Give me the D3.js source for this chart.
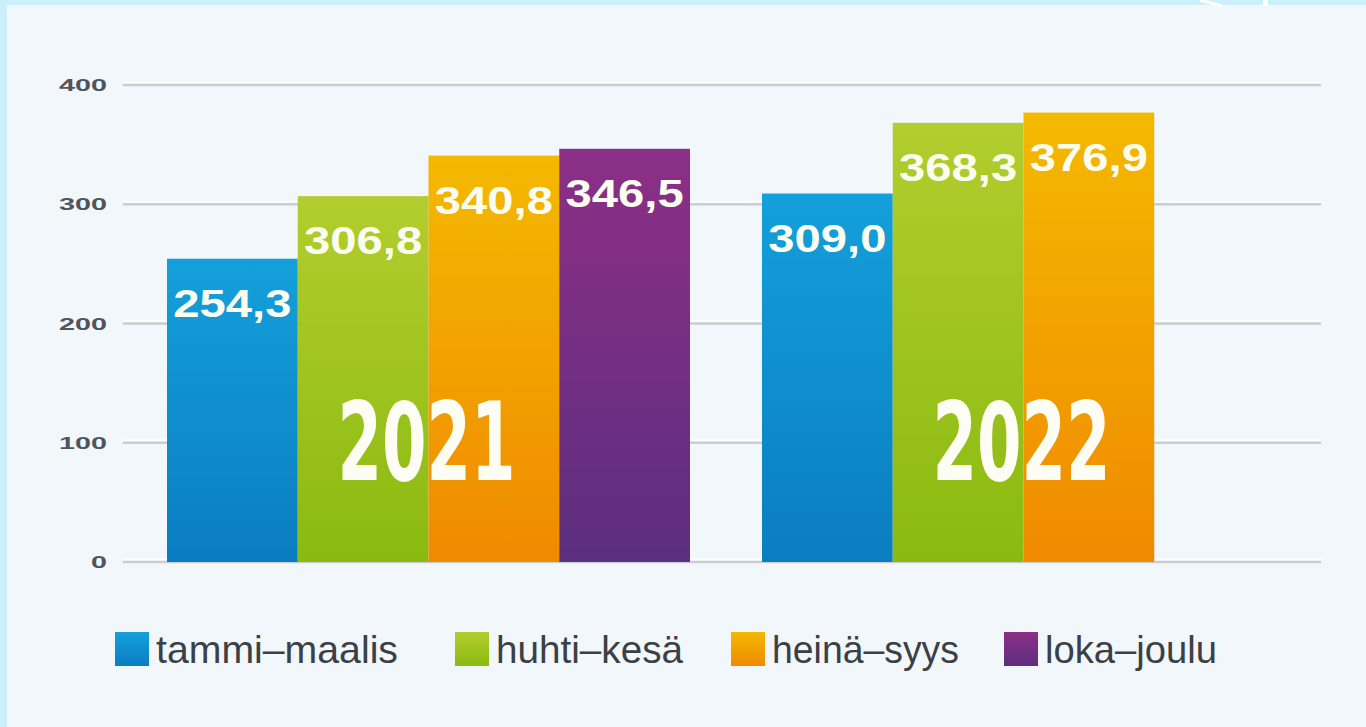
<!DOCTYPE html>
<html>
<head>
<meta charset="utf-8">
<script src="https://cdn.jsdelivr.net/npm/d3@7"></script>
<style>
  html, body { margin: 0; padding: 0; background: #ccf0fb; }
  #chart { width: 1366px; height: 727px; }
</style>
</head>
<body>
<div id="chart"></div>
<script>
// data
const years = ["2021", "2022"];
const quarters = ["tammi–maalis", "huhti–kesä", "heinä–syys", "loka–joulu"];
const values2021 = [254.3, 306.8, 340.8, 346.5];
const values2022 = [309.0, 368.3, 376.9];
const valueLabels2021 = ["254,3", "306,8", "340,8", "346,5"];
const valueLabels2022 = ["309,0", "368,3", "376,9"];
const yTicks = [0, 100, 200, 300, 400];

// colours top -> bottom for each quarter
const colTop = ["#14a0da", "#b3cd2e", "#f4b900", "#8c2f86"];
const colBottom = ["#0a7dc1", "#8aba10", "#f08a00", "#5c2e80"];

const rows = [];
values2021.forEach((v, i) => rows.push({ year: "2021", q: quarters[i], qi: i, v: v, label: valueLabels2021[i] }));
values2022.forEach((v, i) => rows.push({ year: "2022", q: quarters[i], qi: i, v: v, label: valueLabels2022[i] }));

const W = 1366, H = 727;
const svg = d3.select("#chart").append("svg")
  .attr("width", W).attr("height", H);

// panel
svg.append("rect").attr("x", 7).attr("y", 5).attr("width", W - 7).attr("height", H - 5).attr("fill", "#f1f7fb");
// little white decoration top right
svg.append("path").attr("d", "M1200,0 L1222,6").attr("stroke", "#fff").attr("stroke-width", 3).attr("fill", "none");
svg.append("rect").attr("x", 1263).attr("y", 0).attr("width", 5).attr("height", 6).attr("fill", "#fff");

const defs = svg.append("defs");
quarters.forEach((q, i) => {
  const g = defs.append("linearGradient").attr("id", "grad" + i)
    .attr("x1", 0).attr("y1", 0).attr("x2", 0).attr("y2", 1);
  g.append("stop").attr("offset", "0%").attr("stop-color", colTop[i]);
  g.append("stop").attr("offset", "100%").attr("stop-color", colBottom[i]);
});

const y = d3.scaleLinear().domain([0, 400]).range([562, 85]);

const x0 = d3.scaleBand().domain(years).range([131, 1321]).paddingInner(0.121).paddingOuter(0.0605);
const x1 = d3.scaleBand().domain(quarters).range([0, x0.bandwidth()]);

// grid
const grid = svg.append("g");
grid.selectAll("line.hl").data(yTicks).enter().append("line")
  .attr("x1", 123).attr("x2", 1321)
  .attr("y1", d => y(d) - 2.5).attr("y2", d => y(d) - 2.5)
  .attr("stroke", "#ffffff").attr("stroke-width", 2);
grid.selectAll("line.g").data(yTicks).enter().append("line")
  .attr("x1", 123).attr("x2", 1321)
  .attr("y1", d => y(d)).attr("y2", d => y(d))
  .attr("stroke", "#c9ced3").attr("stroke-width", 2.5);

svg.append("g").selectAll("text").data(yTicks).enter().append("text")
  .attr("x", 107).attr("y", d => y(d) + 6)
  .attr("text-anchor", "end")
  .attr("font-family", "Liberation Sans, Arial, sans-serif")
  .attr("font-size", 17).attr("font-weight", "bold")
  .attr("fill", "#50555b")
  .attr("textLength", d => String(d).length * 16)
  .attr("lengthAdjust", "spacingAndGlyphs")
  .text(d => d);

// bars
const bars = svg.append("g");
bars.selectAll("rect").data(rows).enter().append("rect")
  .attr("x", d => x0(d.year) + x1(d.q))
  .attr("y", d => y(d.v))
  .attr("width", x1.bandwidth())
  .attr("height", d => y(0) - y(d.v))
  .attr("fill", d => "url(#grad" + d.qi + ")");

// year labels
svg.append("g").selectAll("text").data(years).enter().append("text")
  .attr("x", d => x0(d) + x0.bandwidth() / 2 - 2)
  .attr("y", 480)
  .attr("text-anchor", "middle")
  .attr("font-family", "Liberation Sans Narrow, DejaVu Sans Condensed, Liberation Sans, sans-serif")
  .attr("font-size", 108).attr("font-weight", "bold")
  .attr("fill", "#fdfdf4")
  .attr("textLength", 178)
  .attr("lengthAdjust", "spacingAndGlyphs")
  .text(d => d);

// value labels
svg.append("g").selectAll("text").data(rows).enter().append("text")
  .attr("x", d => x0(d.year) + x1(d.q) + x1.bandwidth() / 2)
  .attr("y", d => y(d.v) + 58)
  .attr("text-anchor", "middle")
  .attr("font-family", "Liberation Sans, Arial, sans-serif")
  .attr("font-size", 38).attr("font-weight", "bold")
  .attr("fill", "#fbfdf0")
  .attr("textLength", 118)
  .attr("lengthAdjust", "spacingAndGlyphs")
  .text(d => d.label);

// legend
const legendX = [115, 455, 731, 1004];
const legendW = [242, 187, 187, 172];
const legend = svg.append("g");
const li = legend.selectAll("g").data(quarters).enter().append("g")
  .attr("transform", (d, i) => "translate(" + legendX[i] + ",632)");
li.append("rect").attr("width", 34).attr("height", 34)
  .attr("fill", (d, i) => "url(#grad" + i + ")");
li.append("text")
  .attr("x", 41).attr("y", 31)
  .attr("font-family", "Liberation Sans, Arial, sans-serif")
  .attr("font-size", 39)
  .attr("fill", "#3b4046")
  .attr("textLength", (d, i) => legendW[i])
  .attr("lengthAdjust", "spacingAndGlyphs")
  .text(d => d);
</script>
</body>
</html>
